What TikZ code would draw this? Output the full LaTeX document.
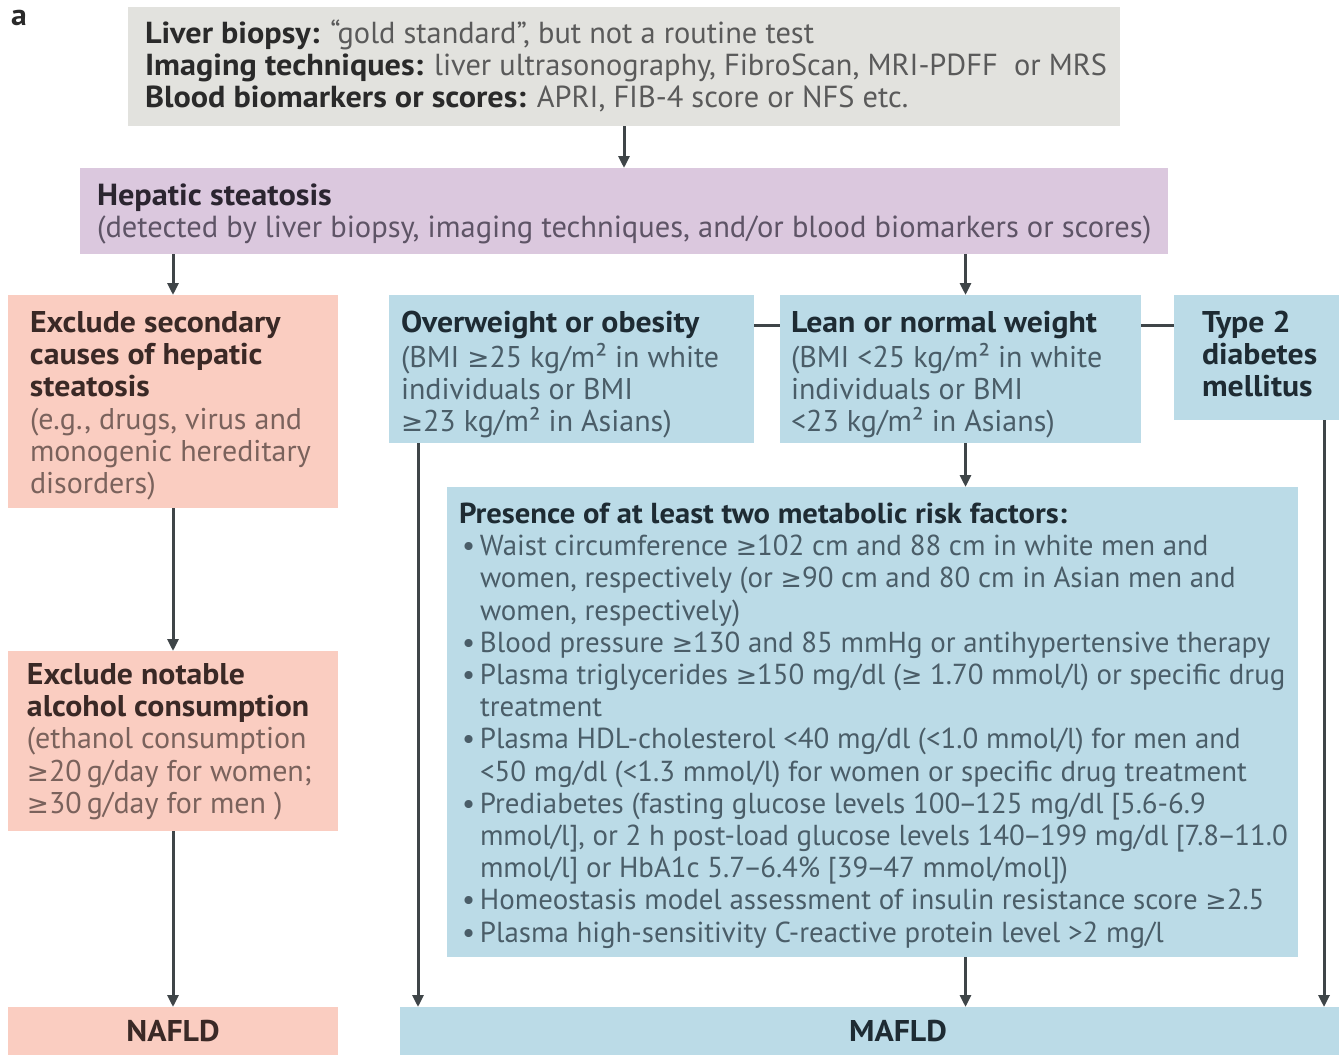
\documentclass[tikz,border=0pt]{standalone}
\usepackage{fontspec}
\setmainfont{PT Sans}[BoldFeatures={FakeStretch=1.06}]
\newfontfamily\symf{DejaVu Sans}[Scale=0.88]
\usetikzlibrary{arrows.meta}
\definecolor{greyc}{HTML}{E2E2DE}
\definecolor{purpc}{HTML}{DBC8DE}
\definecolor{pinkc}{HTML}{FACDC1}
\definecolor{bluec}{HTML}{BBDBE7}
\definecolor{arrowc}{HTML}{3F4548}
\definecolor{hdgrey}{HTML}{2A2A2A}
\definecolor{bdgrey}{HTML}{5A5A5A}
\definecolor{hdpurp}{HTML}{2B2530}
\definecolor{bdpurp}{HTML}{5E5466}
\definecolor{hdpink}{HTML}{3A2926}
\definecolor{bdpink}{HTML}{7A625C}
\definecolor{hdblue}{HTML}{1E2B33}
\definecolor{bdblue}{HTML}{4A5D68}
\newcommand\fsz[1]{\fontsize{#1}{32.2}\selectfont}
\newcommand\hd[2]{{\bfseries\color{#1}#2}}
\newcommand\bul{\makebox[21pt][l]{\hspace*{3pt}\textbullet}}
\newcommand\ind{\hspace*{21pt}}
\newcommand\gq{{\symf ≥}}
\newcommand\nd{\kern-2pt–\kern-2pt}
\begin{document}
\begin{tikzpicture}[x=1pt,y=-1pt,
  box/.style={anchor=north west, inner sep=0pt, outer sep=0pt, draw=none},
  txt/.style={anchor=north west, inner sep=0pt, outer sep=0pt, align=left},
  arr/.style={draw=arrowc, line width=3pt, -{Triangle[length=12pt,width=11pt]}},
  conn/.style={draw=arrowc, line width=3pt}]
\fill[white] (0,0) rectangle (1339,1055);
\useasboundingbox (0,0) rectangle (1339,1055);

% boxes
\node[box, fill=greyc, minimum width=992pt, minimum height=119pt] (top) at (128,7) {};
\node[box, fill=purpc, minimum width=1088pt, minimum height=86pt] (hep) at (80,168) {};
\node[box, fill=pinkc, minimum width=330pt, minimum height=213pt] (sec) at (8,295) {};
\node[box, fill=bluec, minimum width=365pt, minimum height=148pt] (ow) at (389,295) {};
\node[box, fill=bluec, minimum width=361pt, minimum height=148pt] (lean) at (780,295) {};
\node[box, fill=bluec, minimum width=165pt, minimum height=125pt] (t2) at (1174,295) {};
\node[box, fill=bluec, minimum width=851pt, minimum height=470pt] (risk) at (447,487) {};
\node[box, fill=pinkc, minimum width=330pt, minimum height=180pt] (alc) at (8,651) {};
\node[box, fill=pinkc, minimum width=330pt, minimum height=48pt, font=\fsz{30}\bfseries, text=hdpink] (nafld) at (8,1007) {NAFLD};
\node[box, fill=bluec, minimum width=939pt, minimum height=48pt] (mafld) at (400,1007) {};
\node[inner sep=0pt, font=\fsz{30}\bfseries, text=hdblue] (mafldT) at (898,1031) {MAFLD};

% texts
\node[anchor=west, inner sep=0pt, font=\fsz{30}\bfseries, text=hdgrey] (lbl) at (11,18) {a};
\node[txt, font=\fsz{30.4}, text=bdgrey] (topT) at (145,19.5) {\strut\hd{hdgrey}{Liver biopsy:} “gold standard”, but not a routine test\\
\hd{hdgrey}{Imaging techniques:} liver ultrasonography, FibroScan, MRI-PDFF\ \ or MRS\\
\hd{hdgrey}{Blood biomarkers or scores:} APRI, FIB-4 score or NFS etc.};
\node[txt, font=\fsz{30.5}, text=bdpurp] (hepT) at (97,183) {\strut\hd{hdpurp}{Hepatic steatosis}\\
(detected by liver biopsy, imaging techniques, and/or blood biomarkers or scores)};
\node[txt, font=\fsz{30}, text=bdpink] (secT) at (30,310) {\strut\hd{hdpink}{Exclude secondary}\\
\hd{hdpink}{causes of hepatic}\\
\hd{hdpink}{steatosis}\\
(e.g., drugs, virus and\\
monogenic hereditary\\
disorders)};
\node[txt, font=\fsz{30}, text=bdblue] (owT) at (401,310) {\strut\hd{hdblue}{Overweight or obesity}\\
(BMI \gq25 kg/m² in white\\
individuals or BMI\\
\gq23 kg/m² in Asians)};
\node[txt, font=\fsz{30}, text=bdblue] (leanT) at (791,310) {\strut\hd{hdblue}{Lean or normal weight}\\
(BMI <25 kg/m² in white\\
individuals or BMI\\
<23 kg/m² in Asians)};
\node[txt, text=hdblue, font=\fsz{30}\bfseries] (t2T) at (1202,310) {\strut Type 2\\ diabetes\\ mellitus};
\node[txt, font=\fsz{28.9}, text=bdblue] (riskT) at (459,501) {\strut\hd{hdblue}{Presence of at least two metabolic risk factors:}\\
\bul Waist circumference \gq102 cm and 88 cm in white men and\\
\ind women, respectively (or \gq90 cm and 80 cm in Asian men and\\
\ind women, respectively)\\
\bul Blood pressure \gq130 and 85 mmHg or antihypertensive therapy\\
\bul Plasma triglycerides \gq150 mg/dl (\gq\ 1.70 mmol/l) or specific drug\\
\ind treatment\\
\bul Plasma HDL-cholesterol <40 mg/dl (<1.0 mmol/l) for men and\\
\ind <50 mg/dl (<1.3 mmol/l) for women or specific drug treatment\\
\bul Prediabetes (fasting glucose levels 100\nd125 mg/dl [5.6-6.9\\
\ind mmol/l], or 2 h post-load glucose levels 140\nd199 mg/dl [7.8\nd11.0\\
\ind mmol/l] or HbA1c 5.7\nd6.4\% [39\nd47 mmol/mol])\\
\bul Homeostasis model assessment of insulin resistance score \gq2.5\\
\bul Plasma high-sensitivity C-reactive protein level >2 mg/l};
\node[txt, font=\fsz{30}, text=bdpink] (alcT) at (27,662) {\strut\hd{hdpink}{Exclude notable}\\
\hd{hdpink}{alcohol consumption}\\
(ethanol consumption\\
\gq20\,g/day for women;\\
\gq30\,g/day for men )};

% connectors
\draw[arr] (top.south) -- (top.south |- hep.north);
\draw[arr] (hep.south -| sec.north) -- (sec.north);
\draw[arr] ([xshift=5pt]hep.south -| lean.north) -- ([xshift=5pt]lean.north);
\draw[conn] ([yshift=-30pt]ow.north east) -- ([yshift=-30pt]lean.north west);
\draw[conn] ([yshift=-30pt]lean.north east) -- ([yshift=-30pt]t2.north west);
\draw[arr] ([xshift=5pt]lean.south) -- ([xshift=5pt]lean.south |- risk.north);
\draw[arr] (sec.south) -- (alc.north);
\draw[arr] (alc.south) -- (nafld.north);
\draw[arr] ([xshift=29pt]ow.south west) -- ([xshift=29pt]ow.south west |- mafld.north);
\draw[arr] ([xshift=5pt]lean.south |- risk.south) -- ([xshift=5pt]lean.south |- mafld.north);
\draw[arr] ([xshift=-15pt]t2.south east) -- ([xshift=-15pt]t2.south east |- mafld.north);
\end{tikzpicture}
\end{document}
